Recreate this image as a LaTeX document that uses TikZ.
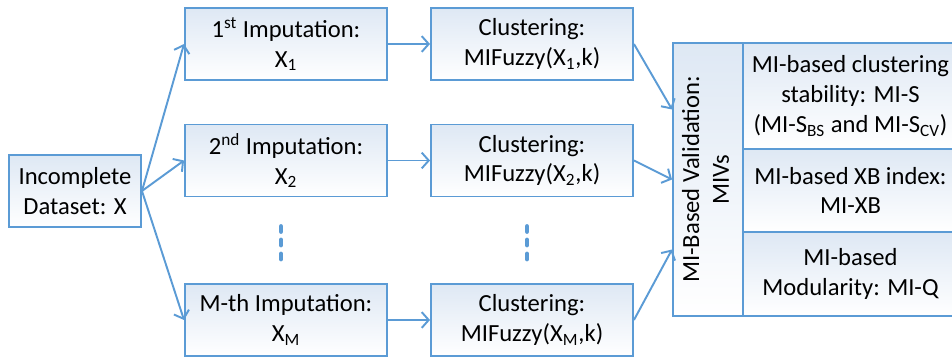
\documentclass[tikz,border=0pt]{standalone}
\usepackage{fontspec}
\setmainfont{Carlito}
\usetikzlibrary{arrows.meta,positioning}
\definecolor{lineblue}{RGB}{91,155,213}
\definecolor{boxtop}{RGB}{222,232,244}
\tikzset{
  stagebox/.style={draw=lineblue, line width=1.1pt, top color=boxtop, bottom color=white,
    align=center, inner sep=0pt, font=\fontsize{14}{17}\selectfont},
  flow/.style={draw=lineblue, line width=1.1pt, -{Straight Barb[length=4pt,width=9pt]}},
}
\begin{document}
\begin{tikzpicture}
        \useasboundingbox (0,0) rectangle (19.04,7.22);

        % Input data
        \node[stagebox, minimum width=2.64cm, minimum height=1.44cm] (inc) at (1.5,3.40) {Incomplete\\Dataset: X};

        % Imputations
        \node[stagebox, minimum width=4.04cm, minimum height=1.44cm] (imp1) at (5.72,6.34) {1\textsuperscript{st} Imputation:\\X\textsubscript{1}};
        \node[stagebox, minimum width=4.04cm, minimum height=1.44cm] (imp2) at (5.72,4.01) {2\textsuperscript{nd} Imputation:\\X\textsubscript{2}};
        \node[stagebox, minimum width=4.04cm, minimum height=1.44cm] (impM) at (5.72,0.82) {M-th Imputation:\\X\textsubscript{M}};

        % Clusterings
        \node[stagebox, minimum width=4.04cm, minimum height=1.44cm] (clu1) at (10.64,6.34) {Clustering:\\MIFuzzy(X\textsubscript{1},k)};
        \node[stagebox, minimum width=4.04cm, minimum height=1.44cm] (clu2) at (10.64,4.01) {Clustering:\\MIFuzzy(X\textsubscript{2},k)};
        \node[stagebox, minimum width=4.04cm, minimum height=1.44cm] (cluM) at (10.64,0.82) {Clustering:\\MIFuzzy(X\textsubscript{M},k)};

        % Validation
        \node[stagebox, minimum width=1.40cm, minimum height=5.46cm] (val) at (14.16,3.63)
            {\rotatebox{90}{\begin{tabular}{@{}c@{}}MI-Based Validation:\\MIVs\end{tabular}}};
        \node[stagebox, minimum width=4.30cm, minimum height=2.12cm] (mis) at (17.01,5.30) {MI-based clustering\\stability: MI-S\\(MI-S\textsubscript{BS} and MI-S\textsubscript{CV})};
        \node[stagebox, minimum width=4.30cm, minimum height=1.66cm] (mixb) at (17.01,3.41) {MI-based XB index:\\MI-XB};
        \node[stagebox, minimum width=4.30cm, minimum height=1.68cm] (miq) at (17.01,1.74) {MI-based\\Modularity: MI-Q};

        % Vertical dots
        \foreach \x in {5.62,10.54}
            \foreach \y in {2.64,2.37,2.09}
                \draw[lineblue, line width=2.8pt, line cap=round] (\x,\y+0.05) -- (\x,\y-0.05);

        % Arrows
        \draw[flow] (inc.east) -- (imp1.west);
        \draw[flow] (inc.east) -- (imp2.west);
        \draw[flow] (inc.east) -- (impM.west);
        \draw[flow] (imp1) -- (clu1);
        \draw[flow] (imp2) -- (clu2);
        \draw[flow] (impM) -- (cluM);
        \draw[flow] (clu1.east) -- ([yshift=1.4cm]val.west);
        \draw[flow] (clu2.east) -- (val.west);
        \draw[flow] (cluM.east) -- ([yshift=-1.4cm]val.west);
    \end{tikzpicture}
\end{document}
